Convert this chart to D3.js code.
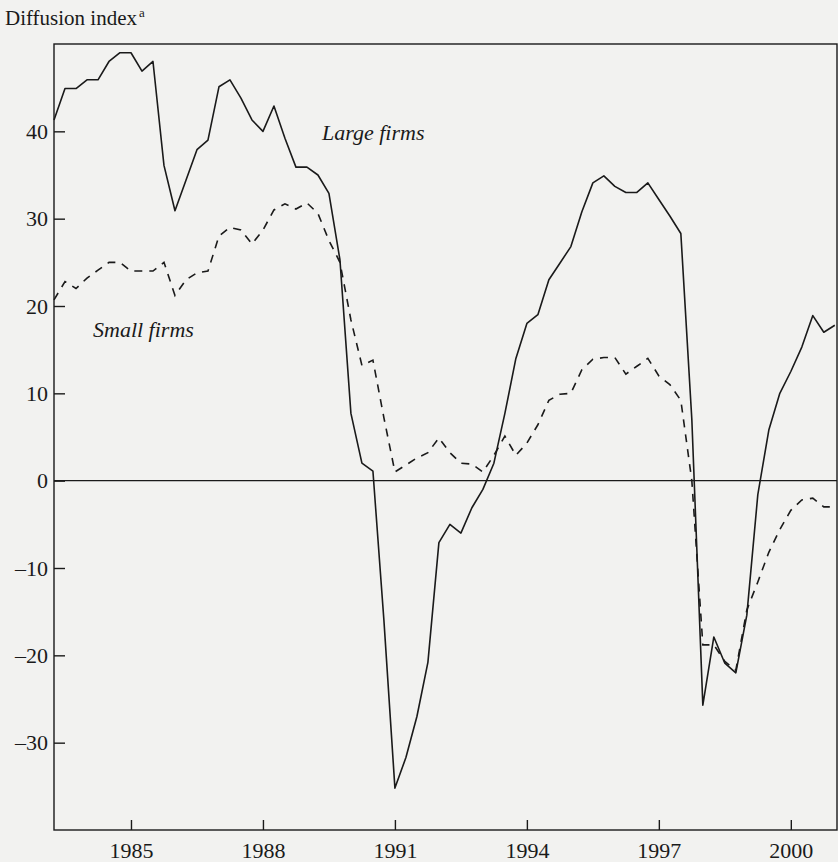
<!DOCTYPE html>
<html>
<head>
<meta charset="utf-8">
<script src="https://cdn.jsdelivr.net/npm/d3@7"></script>
<style>
  body { margin: 0; background: #f2f2f0; }
  svg text { font-family: "Liberation Serif", "Times New Roman", serif; fill: #1a1a1a; }
</style>
</head>
<body>
<div class="canvas"></div>
<script>
// quarterly series, first observation 1983 Q2
const firstYear = 1983;
const firstQuarter = 2;

// diffusion index, large firms (solid)
const largeFirms = [
  41.3, 44.9, 44.9, 45.9, 45.9, 48.0, 49.0, 49.0, 46.9, 48.0,
  36.1, 30.9, 34.4, 37.9, 39.0, 45.1, 45.9, 43.8, 41.3, 40.0,
  42.9, 39.2, 35.9, 35.9, 35.0, 32.9, 25.3, 7.7, 2.0, 1.1,
  -16.0, -35.2, -31.7, -27.0, -20.8, -7.1, -5.0, -6.0, -3.1, -1.0,
  2.0, 7.7, 14.0, 18.0, 19.0, 23.0, 24.9, 26.8, 30.8, 34.1,
  34.9, 33.7, 33.0, 33.0, 34.1, 32.2, 30.3, 28.3, 7.0, -25.7,
  -17.9, -20.9, -22.0, -15.4, -1.6, 5.8, 10.0, 12.5, 15.3, 18.9,
  17.0, 17.8
];

// diffusion index, small firms (dashed)
const smallFirms = [
  20.7, 22.8, 22.0, 23.2, 24.1, 25.0, 25.0, 24.0, 24.0, 24.0,
  25.0, 21.2, 23.0, 23.8, 24.0, 28.0, 29.0, 28.7, 27.1, 28.7,
  31.0, 31.7, 31.1, 31.8, 30.6, 27.5, 25.0, 18.4, 13.2, 13.8,
  7.2, 1.0, 1.8, 2.6, 3.2, 4.9, 3.2, 2.0, 1.9, 1.0,
  2.9, 5.1, 2.9, 4.3, 6.4, 9.2, 9.9, 10.0, 12.7, 13.9,
  14.1, 14.1, 12.2, 13.1, 14.0, 12.0, 11.0, 9.2, 0.0, -18.8,
  -18.8, -20.7, -21.7, -14.8, -11.6, -8.2, -5.6, -3.4, -2.2, -2.0,
  -3.0, -3.0
];

const yearTicks = [1985, 1988, 1991, 1994, 1997, 2000];
const valueTicks = [-30, -20, -10, 0, 10, 20, 30, 40];

// quarter -> decimal year
const periods = largeFirms.map((d, i) => firstYear + (firstQuarter - 1 + i) / 4);

const svg = d3.select('.canvas')
  .append('svg')
    .attr('width', 838)
    .attr('height', 862);

// plot box
const box = {left: 54, right: 837, top: 44, bottom: 830};

const x = d3.scaleLinear()
  .domain([1983.25, 2001.05])
  .range([box.left, box.right]);

const y = d3.scaleLinear()
  .domain([-40, 50])
  .range([box.bottom, box.top]);

// axis title
svg.append('text')
  .attr('x', 5)
  .attr('y', 25)
  .attr('font-size', 21)
  .text('Diffusion index');
svg.append('text')
  .attr('x', 139)
  .attr('y', 17)
  .attr('font-size', 13)
  .text('a');

// frame
svg.append('rect')
  .attr('x', box.left)
  .attr('y', box.top)
  .attr('width', box.right - box.left)
  .attr('height', box.bottom - box.top)
  .attr('fill', 'none')
  .attr('stroke', '#1a1a1a')
  .attr('stroke-width', 1.4);

// axes, ticks pointing inward
const yAxis = svg.append('g')
  .attr('transform', `translate(${box.left},0)`)
  .call(d3.axisLeft(y).tickValues(valueTicks).tickSize(-11).tickPadding(6));

const xAxis = svg.append('g')
  .attr('transform', `translate(0,${box.bottom})`)
  .call(d3.axisBottom(x).tickValues(yearTicks).tickFormat(d3.format('d')).tickSize(-10).tickPadding(12));

[yAxis, xAxis].forEach(g => {
  g.select('.domain').remove();
  g.selectAll('line').attr('stroke', '#1a1a1a').attr('stroke-width', 1.4);
  g.selectAll('text')
    .attr('font-size', 22)
    .attr('fill', '#1a1a1a')
    .style('font-family', '"Liberation Serif", "Times New Roman", serif');
});
yAxis.selectAll('text').text(d => d < 0 ? '\u2013' + Math.abs(d) : d);

// zero line
svg.append('line')
  .attr('x1', box.left)
  .attr('x2', box.right)
  .attr('y1', y(0))
  .attr('y2', y(0))
  .attr('stroke', '#1a1a1a')
  .attr('stroke-width', 1.4);

const line = d3.line()
  .x((d, i) => x(periods[i]))
  .y(d => y(d));

svg.append('path')
  .datum(largeFirms)
  .attr('d', line)
  .attr('fill', 'none')
  .attr('stroke', '#1a1a1a')
  .attr('stroke-width', 1.6)
  .attr('stroke-linejoin', 'round');

svg.append('path')
  .datum(smallFirms)
  .attr('d', line)
  .attr('fill', 'none')
  .attr('stroke', '#1a1a1a')
  .attr('stroke-width', 1.6)
  .attr('stroke-dasharray', '8,7');

// series labels
svg.append('text')
  .attr('x', 322)
  .attr('y', 140)
  .attr('font-size', 22)
  .attr('font-style', 'italic')
  .text('Large firms');

svg.append('text')
  .attr('x', 93)
  .attr('y', 337)
  .attr('font-size', 22)
  .attr('font-style', 'italic')
  .text('Small firms');
</script>
</body>
</html>
